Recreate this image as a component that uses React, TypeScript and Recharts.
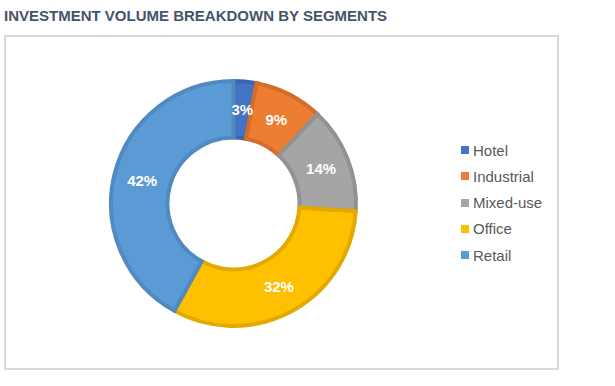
import { PieChart, Pie, Cell, Legend } from 'recharts';

const segments = ['Hotel', 'Industrial', 'Mixed-use', 'Office', 'Retail'];
const shares = [3, 9, 14, 32, 42];

const FILLS = ['#4472c4', '#ed7d31', '#a5a5a5', '#ffc000', '#5b9bd5'];
const STROKES = ['#3c64ae', '#d26d2a', '#929292', '#e2aa00', '#508ac0'];

const data = segments.map((name, i) => ({ name, value: shares[i] }));

const RAD = Math.PI / 180;
const FONT = '"Liberation Sans", Arial, sans-serif';

function renderLabel(props: any) {
  const { cx, cy, midAngle, innerRadius, outerRadius, value } = props;
  const r = (innerRadius + outerRadius) / 2;
  const x = cx + r * Math.cos(-midAngle * RAD);
  const y = cy + r * Math.sin(-midAngle * RAD);
  return (
    <text
      x={x}
      y={y}
      fill="#ffffff"
      textAnchor="middle"
      dominantBaseline="central"
      style={{ fontFamily: FONT, fontSize: 15, fontWeight: 700 }}
    >
      {`${value}%`}
    </text>
  );
}

function LegendContent() {
  return (
    <div style={{ fontFamily: FONT, fontSize: 15, color: '#595959' }}>
      {segments.map((name, i) => (
        <div key={name} style={{ display: 'flex', alignItems: 'center', height: 26.25 }}>
          <span
            style={{ display: 'inline-block', width: 8, height: 8, background: FILLS[i], marginRight: 4 }}
          />
          <span>{name}</span>
        </div>
      ))}
    </div>
  );
}

export default function App() {
  return (
    <div style={{ position: 'absolute', left: 0, top: 0, width: 615, height: 386, background: '#fff' }}>
      <div
        style={{
          position: 'absolute',
          left: 4,
          top: 7,
          fontFamily: FONT,
          fontSize: 15,
          fontWeight: 700,
          color: '#44546a',
          whiteSpace: 'nowrap',
        }}
      >
        INVESTMENT VOLUME BREAKDOWN BY SEGMENTS
      </div>
      <div
        style={{
          position: 'absolute',
          left: 4,
          top: 35,
          width: 551,
          height: 331,
          border: '2px solid #d9d9d9',
        }}
      />
      <div style={{ position: 'absolute', left: 0, top: 0 }}>
        <PieChart width={615} height={386}>
          <Pie
            data={data}
            dataKey="value"
            nameKey="name"
            cx={228.5}
            cy={198.5}
            innerRadius={66}
            outerRadius={122.5}
            startAngle={90}
            endAngle={-270}
            label={renderLabel}
            labelLine={false}
            isAnimationActive={false}
          >
            {data.map((d, i) => (
              <Cell key={d.name} fill={FILLS[i]} stroke={STROKES[i]} strokeWidth={4} />
            ))}
          </Pie>
          <Legend
            layout="vertical"
            content={<LegendContent />}
            wrapperStyle={{ position: 'absolute', left: 461, top: 137, width: 120 }}
          />
        </PieChart>
      </div>
    </div>
  );
}
